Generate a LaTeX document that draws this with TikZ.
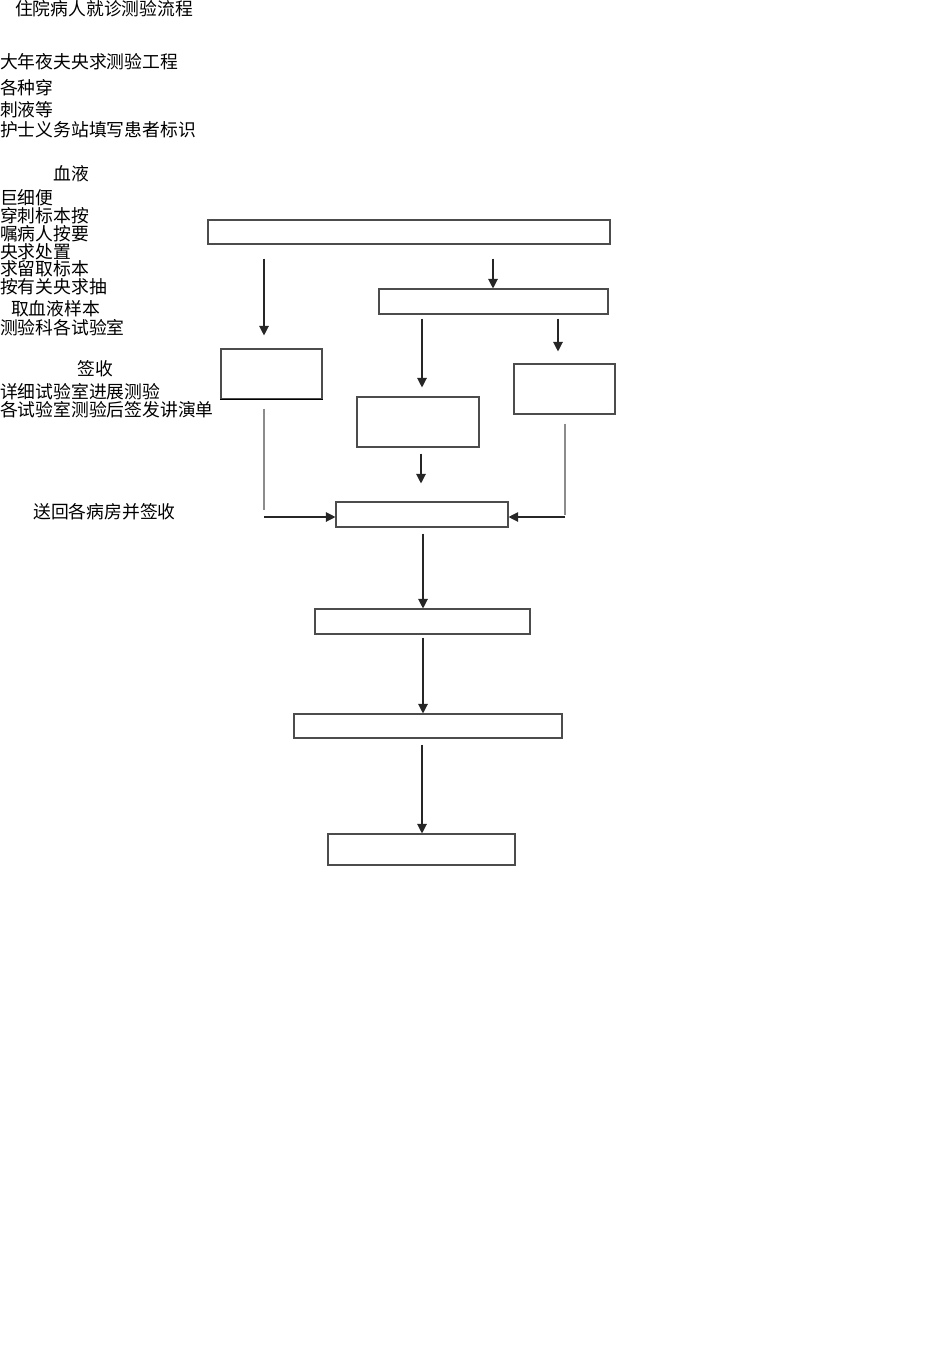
\documentclass[tikz,border=0pt]{standalone}
\usepackage{fontspec}
\newfontfamily\cjk{Noto Sans CJK SC}
\usetikzlibrary{arrows.meta}
\begin{document}
\begin{tikzpicture}[x=1pt,y=-1pt,
  lbl/.style={anchor=west,inner sep=0pt,font=\cjk\fontsize{17.8pt}{18pt}\selectfont},
  box/.style={draw=black!70,line width=1.1pt,fill=white,inner sep=0pt},
  arr/.style={draw=black!85,line width=1.2pt,-{Triangle[length=9.5pt,width=9.5pt]}},
  side/.style={draw=black!45,line width=1.2pt}]
\useasboundingbox (0,0) rectangle (950,1346);
% texts
\node[lbl] (t1) at (15,8.5) {住院病人就诊测验流程};
\node[lbl] (t2) at (0,61.5) {大年夜夫央求测验工程};
\node[lbl] (t3) at (0,87.5) {各种穿};
\node[lbl] (t4) at (0,109.5) {刺液等};
\node[lbl] (t5) at (0,129.5) {护士义务站填写患者标识};
\node[lbl] (t6) at (53,173.5) {血液};
\node[lbl] (t7) at (0,197.5) {巨细便};
\node[lbl] (t8) at (0,215.5) {穿刺标本按};
\node[lbl] (t9) at (0,233.5) {嘱病人按要};
\node[lbl] (t10) at (0,251.5) {央求处置};
\node[lbl] (t11) at (0,268.5) {求留取标本};
\node[lbl] (t12) at (0,286.5) {按有关央求抽};
\node[lbl] (t13) at (11,308.5) {取血液样本};
\node[lbl] (t14) at (0,327.5) {测验科各试验室};
\node[lbl] (t15) at (77,368.5) {签收};
\node[lbl] (t16) at (0,391.5) {详细试验室进展测验};
\node[lbl] (t17) at (0,409.5) {各试验室测验后签发讲演单};
\node[lbl] (t18) at (33,511.5) {送回各病房并签收};
% boxes
\node[box,minimum width=402pt,minimum height=24pt] (a) at (409,232) {};
\node[box,minimum width=229pt,minimum height=25pt] (b) at (493.5,301.5) {};
\node[box,minimum width=101pt,minimum height=50pt] (c) at (271.5,374) {};
\node[box,minimum width=122pt,minimum height=50pt] (d) at (418,422) {};
\node[box,minimum width=101pt,minimum height=50pt] (e) at (564.5,389) {};
\node[box,minimum width=172pt,minimum height=25pt] (f) at (422,514.5) {};
\node[box,minimum width=215pt,minimum height=25pt] (g) at (422.5,621.5) {};
\node[box,minimum width=268pt,minimum height=24pt] (h) at (428,726) {};
\node[box,minimum width=187pt,minimum height=31pt] (i) at (421.5,849.5) {};
\draw[black,line width=1.3pt] (c.south west) -- (c.south east);
% connectors
\draw[arr,shorten <=14pt,shorten >=13pt] (a.south -| 264,0) -- (c.north -| 264,0);
\draw[arr,shorten <=14pt] (a.south -| 493,0) -- (b.north -| 493,0);
\draw[arr,shorten <=4pt,shorten >=9pt] (b.south -| 422,0) -- (d.north -| 422,0);
\draw[arr,shorten <=4pt,shorten >=12pt] (b.south -| 558,0) -- (e.north -| 558,0);
\draw[arr,shorten <=6pt,shorten >=18pt] (d.south -| 421,0) -- (f.north -| 421,0);
\draw[side,shorten <=9pt,shorten >=5pt] (c.south -| 264,0) -- (f.west -| 264,0);
\draw[arr] ([yshift=-2.5pt]f.west -| 264,0) -- ([yshift=-2.5pt]f.west);
\draw[side,shorten <=9pt] (e.south -| 565,0) -- (f.east -| 565,0);
\draw[arr] ([yshift=-2.5pt]f.east -| 565,0) -- ([yshift=-2.5pt]f.east);
\draw[arr,shorten <=6pt] (f.south -| 423,0) -- (g.north -| 423,0);
\draw[arr,shorten <=3pt] (g.south -| 423,0) -- (h.north -| 423,0);
\draw[arr,shorten <=6pt] (h.south -| 422,0) -- (i.north -| 422,0);
\end{tikzpicture}
\end{document}
